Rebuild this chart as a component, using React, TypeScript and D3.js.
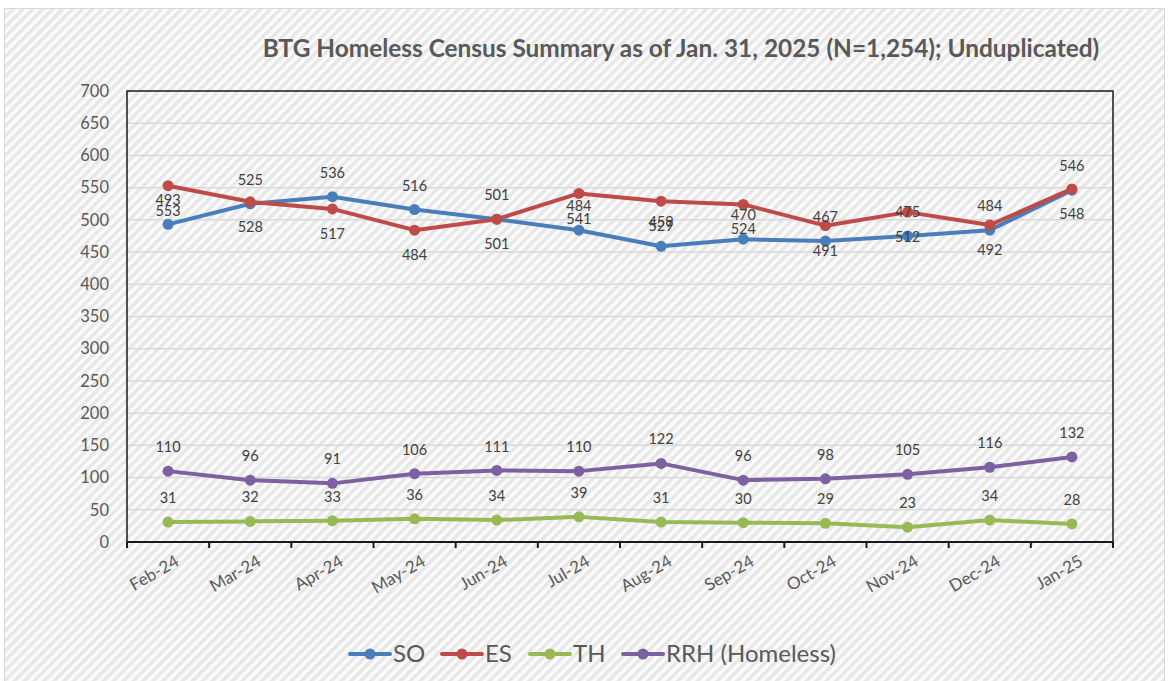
import React, { useEffect, useRef } from 'react';
import * as d3 from 'd3';

const months = ['Feb-24', 'Mar-24', 'Apr-24', 'May-24', 'Jun-24', 'Jul-24', 'Aug-24', 'Sep-24', 'Oct-24', 'Nov-24', 'Dec-24', 'Jan-25'];
const soValues = [493, 525, 536, 516, 501, 484, 459, 470, 467, 475, 484, 546];
const esValues = [553, 528, 517, 484, 501, 541, 529, 524, 491, 512, 492, 548];
const thValues = [31, 32, 33, 36, 34, 39, 31, 30, 29, 23, 34, 28];
const rrhValues = [110, 96, 91, 106, 111, 110, 122, 96, 98, 105, 116, 132];
const yTicks = [0, 50, 100, 150, 200, 250, 300, 350, 400, 450, 500, 550, 600, 650, 700];

const series = [
  { name: 'SO', values: soValues, color: '#4A7EBB', labelPos: 'above' },
  { name: 'ES', values: esValues, color: '#BE4B48', labelPos: 'below' },
  { name: 'TH', values: thValues, color: '#98B954', labelPos: 'above' },
  { name: 'RRH (Homeless)', values: rrhValues, color: '#7D60A0', labelPos: 'above' },
];

const FONT = 'Lato, "Noto Sans", sans-serif';
const TEXT = '#595959';

const App: React.FC = () => {
  const svgRef = useRef<SVGSVGElement>(null);

  useEffect(() => {
    if (!svgRef.current) return;
    d3.select(svgRef.current).selectAll('*').remove();

    const width = 1169;
    const height = 681;
    const plot = { left: 127, right: 1113, top: 91, bottom: 542 };

    const svg = d3.select(svgRef.current)
      .attr('width', width)
      .attr('height', height)
      .style('font-family', FONT);

    // diagonal hatch background
    const defs = svg.append('defs');
    const pat = defs.append('pattern')
      .attr('id', 'hatch')
      .attr('patternUnits', 'userSpaceOnUse')
      .attr('width', 7)
      .attr('height', 7)
      .attr('patternTransform', 'rotate(45)');
    pat.append('rect').attr('width', 7).attr('height', 7).attr('fill', '#fbfbfb');
    pat.append('rect').attr('width', 3.5).attr('height', 7).attr('fill', '#e7e7e7');

    svg.append('rect').attr('width', width).attr('height', height).attr('fill', '#fff');
    svg.append('rect')
      .attr('x', 4.5).attr('y', 8.5)
      .attr('width', 1160).attr('height', 690)
      .attr('fill', 'url(#hatch)')
      .attr('stroke', '#d9d9d9')
      .attr('stroke-width', 1);

    const x = d3.scaleBand<string>()
      .domain(months)
      .range([plot.left, plot.right]);

    const y = d3.scaleLinear()
      .domain([0, 700])
      .range([plot.bottom, plot.top]);

    const cx = (m: string) => (x(m) ?? 0) + x.bandwidth() / 2;

    // title
    svg.append('text')
      .attr('x', 681)
      .attr('y', 57)
      .attr('text-anchor', 'middle')
      .attr('fill', TEXT)
      .style('font-size', '24.4px')
      .style('font-weight', 'bold')
      .text('BTG Homeless Census Summary as of Jan. 31, 2025 (N=1,254); Unduplicated)');

    // grid lines
    svg.append('g')
      .selectAll('line')
      .data(yTicks.filter(t => t > 0 && t < 700))
      .join('line')
      .attr('x1', plot.left)
      .attr('x2', plot.right)
      .attr('y1', d => y(d))
      .attr('y2', d => y(d))
      .attr('stroke', '#d9d9d9')
      .attr('stroke-width', 1.5);

    // y labels
    svg.append('g')
      .selectAll('text')
      .data(yTicks)
      .join('text')
      .attr('x', 109)
      .attr('y', d => y(d))
      .attr('dy', '0.35em')
      .attr('text-anchor', 'end')
      .attr('fill', TEXT)
      .style('font-size', '16.5px')
      .text(d => d);

    // plot border
    svg.append('rect')
      .attr('x', plot.left)
      .attr('y', plot.top)
      .attr('width', plot.right - plot.left)
      .attr('height', plot.bottom - plot.top)
      .attr('fill', 'none')
      .attr('stroke', '#1a1a1a')
      .attr('stroke-width', 1.5);

    svg.append('line')
      .attr('x1', plot.left).attr('x2', plot.right)
      .attr('y1', plot.bottom).attr('y2', plot.bottom)
      .attr('stroke', '#1a1a1a')
      .attr('stroke-width', 2);

    // x ticks at band boundaries
    const bounds = months.map(m => x(m) ?? 0).concat([plot.right]);
    svg.append('g')
      .selectAll('line')
      .data(bounds)
      .join('line')
      .attr('x1', d => d).attr('x2', d => d)
      .attr('y1', plot.bottom).attr('y2', plot.bottom + 6)
      .attr('stroke', '#1a1a1a')
      .attr('stroke-width', 2);

    // x labels rotated
    svg.append('g')
      .selectAll('text')
      .data(months)
      .join('text')
      .attr('transform', d => `translate(${cx(d) + 6},${plot.bottom + 12}) rotate(-30)`)
      .attr('dy', '0.72em')
      .attr('text-anchor', 'end')
      .attr('fill', TEXT)
      .style('font-size', '17px')
      .text(d => d);

    // lines
    const line = d3.line<number>()
      .x((_, i) => cx(months[i]))
      .y(d => y(d));

    series.forEach(s => {
      const g = svg.append('g');
      g.append('path')
        .datum(s.values)
        .attr('d', line)
        .attr('fill', 'none')
        .attr('stroke', s.color)
        .attr('stroke-width', 4)
        .attr('stroke-linejoin', 'round')
        .attr('stroke-linecap', 'round');

      g.selectAll('circle')
        .data(s.values)
        .join('circle')
        .attr('cx', (_, i) => cx(months[i]))
        .attr('cy', d => y(d))
        .attr('r', 5.5)
        .attr('fill', s.color);
    });

    // data labels
    series.forEach(s => {
      svg.append('g')
        .selectAll('text')
        .data(s.values)
        .join('text')
        .attr('x', (_, i) => cx(months[i]))
        .attr('y', d => s.labelPos === 'above' ? y(d) - 24 : y(d) + 25)
        .attr('dy', '0.35em')
        .attr('text-anchor', 'middle')
        .attr('fill', '#404040')
        .style('font-size', '14.5px')
        .text(d => d);
    });

    // legend
    const legendX = [350, 442, 530, 623];
    const legend = svg.append('g');
    series.forEach((s, i) => {
      const lx = legendX[i];
      legend.append('line')
        .attr('x1', lx).attr('x2', lx + 40)
        .attr('y1', 654).attr('y2', 654)
        .attr('stroke', s.color)
        .attr('stroke-width', 4)
        .attr('stroke-linecap', 'round');
      legend.append('circle')
        .attr('cx', lx + 20).attr('cy', 654)
        .attr('r', 5.5)
        .attr('fill', s.color);
      legend.append('text')
        .attr('x', lx + 43)
        .attr('y', 654)
        .attr('dy', '0.35em')
        .attr('fill', TEXT)
        .style('font-size', '24px')
        .text(s.name);
    });
  }, []);

  return (
    <div style={{ position: 'absolute', left: 0, top: 0, width: 1169, height: 681, overflow: 'hidden' }}>
      <svg ref={svgRef} style={{ display: 'block' }} />
    </div>
  );
};

export default App;
